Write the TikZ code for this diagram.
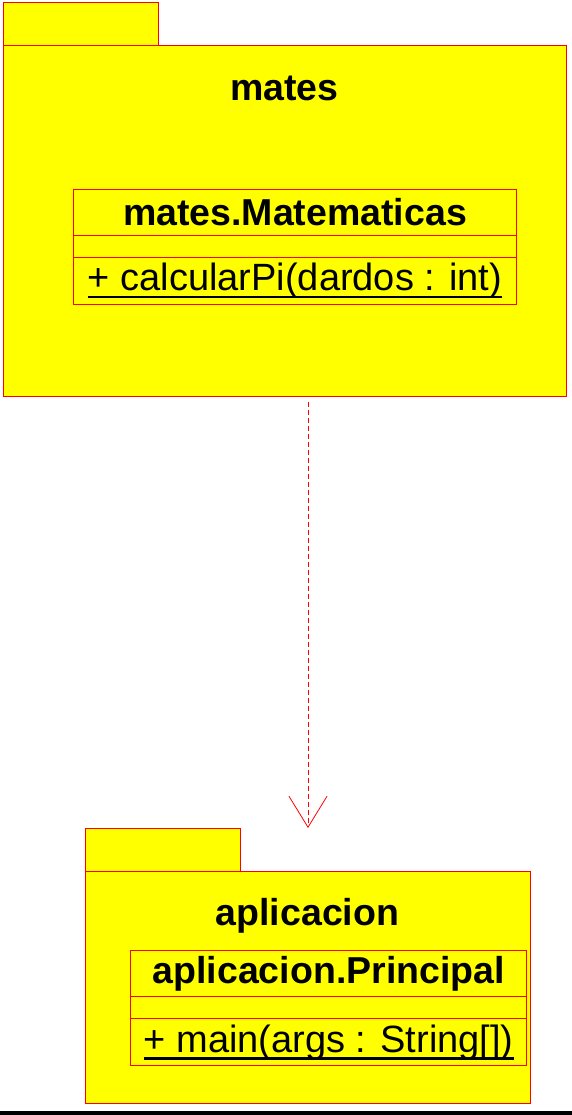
\documentclass[tikz,border=0pt]{standalone}
\usepackage{fontspec}
\setmainfont{Liberation Sans}
\usepackage{tikz}
\usetikzlibrary{positioning}
\usetikzlibrary{arrows.meta}
\definecolor{pkgyellow}{RGB}{255,255,0}
\tikzstyle{package} = [draw=red, fill=pkgyellow, line width=1pt, inner sep=0pt, outer sep=0pt, anchor=north west]
\tikzstyle{tab} = [package, minimum width=155pt, minimum height=43pt]
\tikzstyle{compartment} = [draw=red, line width=0.8pt, inner sep=0pt, outer sep=0pt, anchor=north west]
\tikzstyle{pkgname} = [font=\fontsize{37.5}{40}\selectfont\bfseries, anchor=base]
\tikzstyle{classname} = [font=\fontsize{37.5}{40}\selectfont\bfseries]
\tikzstyle{operation} = [font=\fontsize{38}{40}\selectfont, inner sep=0pt]
\tikzstyle{underlined} = [draw, line width=2.5pt]
\tikzstyle{dependency} = [draw=red, line width=0.8pt, dash pattern=on 5pt off 3pt, -{Straight Barb[length=31pt,width=38pt]}]

\begin{document}
\begin{tikzpicture}[x=1pt, y=-1pt]
    \useasboundingbox (0,0) rectangle (572,1115);
    % First the two packages: tab, body and the package name
    \foreach \name/\x/\y/\w/\h/\pkgtitle in {mates/3/3/563/350/mates, aplic/85/828/445/232/aplicacion}{
        \node[tab] (\name Tab) at (\x,\y) {};
        \node[package, minimum width=\w pt, minimum height=\h pt] (\name Pkg) at (\x,\y+43) {};
        \node[pkgname] (\name Label) at ([yshift=-54.5pt]\name Pkg.north) {\pkgtitle};
    }

    % Then the classes inside them
    \foreach \name/\x/\y/\w/\clsname/\optext in {mates/73.3/189.3/443.4/mates.Matematicas/{+ calcularPi(dardos : int)}, aplic/130.7/950.7/396/aplicacion.Principal/{+ main(args : String[])}}{
        \node[compartment, classname, minimum width=\w pt, minimum height=46pt] (\name Class) at (\x,\y) {\clsname};
        \node[compartment, minimum width=\w pt, minimum height=22pt, below=0pt of \name Class] (\name Attr) {};
        \node[compartment, minimum width=\w pt, minimum height=47pt, below=0pt of \name Attr] (\name Ops) {};
        \node[operation] (\name Op) at (\name Ops.center) {\optext};
        \draw[underlined] ([yshift=-6.5pt]\name Op.base west) -- ([yshift=-6.5pt]\name Op.base east);
    }

    % dependency between the packages
    \coordinate (depFrom) at (308,402);
    \coordinate (depTo) at (308,828);
    \draw[dependency] (depFrom) -- (depTo);

    \node[fill=black, inner sep=0pt, minimum width=572pt, minimum height=4pt, anchor=north west] (baseBar) at (0,1111) {};
\end{tikzpicture}
\end{document}
